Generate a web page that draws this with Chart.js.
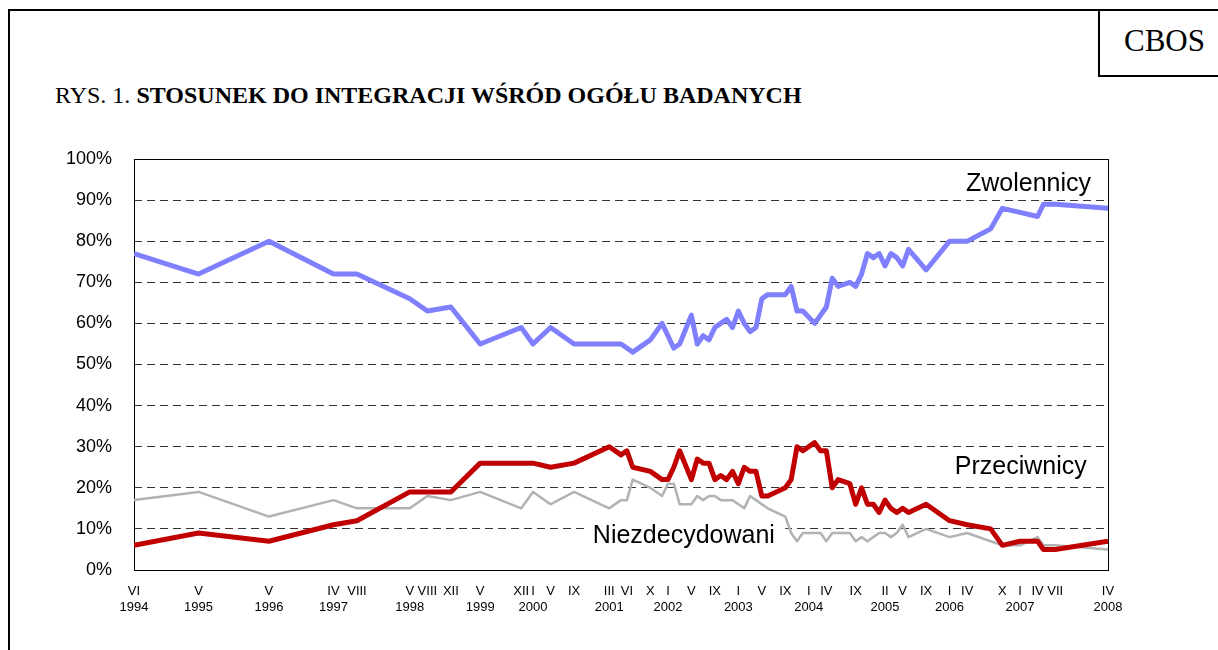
<!DOCTYPE html>
<html>
<head>
<meta charset="utf-8">
<script src="https://cdn.jsdelivr.net/npm/chart.js@4.4.1/dist/chart.umd.min.js"></script>
<style>
  body { margin: 0; background: #fff; }
  #wrap { position: relative; width: 1218px; height: 650px; overflow: hidden; }
  #frame { position: absolute; left: 8px; top: 9px; width: 1300px; height: 700px;
           border-left: 2px solid #000; border-top: 2px solid #000; }
  #cbos { position: absolute; left: 1098px; top: 9px; width: 150px; height: 68px;
          border-left: 2px solid #000; border-bottom: 2px solid #000;
          font-family: "Liberation Serif", "Times New Roman", serif; font-size: 31px;
          line-height: 64px; padding-left: 24px; box-sizing: border-box; }
  #title { position: absolute; left: 55px; top: 82px; white-space: nowrap;
           font-family: "Liberation Serif", "Times New Roman", serif; font-size: 24px; }
  #title b { font-weight: bold; }
  canvas { position: absolute; left: 0; top: 0; }
</style>
</head>
<body>
<div id="wrap">
  <div id="frame"></div>
  <div id="cbos">CBOS</div>
  <div id="title">RYS. 1. <b>STOSUNEK DO INTEGRACJI WŚRÓD OGÓŁU BADANYCH</b></div>
  <canvas id="chart" width="1218" height="650"></canvas>
</div>
<script>
// survey dates as months counted from January 1994 (0 = I 1994)
const surveyMonths = [5, 16, 28, 39, 43, 52, 55, 59, 64, 71, 73, 76, 80, 86, 88, 89, 90, 93, 95, 96,
  97, 98, 100, 101, 102, 103, 104, 105, 106, 107, 108, 109, 110, 111, 112, 113, 116, 117, 118, 119,
  121, 122, 123, 124, 125, 127, 128, 129, 130, 131, 132, 133, 134, 135, 136, 137, 140, 144, 147, 151,
  153, 156, 159, 160, 162, 171];

const zwolennicy = [77, 72, 80, 72, 72, 66, 63, 64, 55, 59, 55, 59, 55, 55, 55, 54, 53, 56, 60, 57,
  54, 55, 62, 55, 57, 56, 59, 60, 61, 59, 63, 60, 58, 59, 66, 67, 67, 69, 63, 63,
  60, 62, 64, 71, 69, 70, 69, 72, 77, 76, 77, 74, 77, 76, 74, 78, 73, 80, 80, 83,
  88, 87, 86, 89, 89, 88];

const przeciwnicy = [6, 9, 7, 11, 12, 19, 19, 19, 26, 26, 26, 25, 26, 30, 28, 29, 25, 24, 22, 22,
  25, 29, 22, 27, 26, 26, 22, 23, 22, 24, 21, 25, 24, 24, 18, 18, 20, 22, 30, 29,
  31, 29, 29, 20, 22, 21, 16, 20, 16, 16, 14, 17, 15, 14, 15, 14, 16, 12, 11, 10,
  6, 7, 7, 5, 5, 7];

const niezdecydowani = [17, 19, 13, 17, 15, 15, 18, 17, 19, 15, 19, 16, 19, 15, 17, 17, 22, 20, 18, 21,
  21, 16, 16, 18, 17, 18, 18, 17, 17, 17, 16, 15, 18, 17, 16, 15, 13, 9, 7, 9,
  9, 9, 7, 9, 9, 9, 7, 8, 7, 8, 9, 9, 8, 9, 11, 8, 10, 8, 9, 7,
  6, 6, 8, 6, 6, 5];

// x axis labels: month (roman) and year
const tickMonths = [5, 16, 28, 39, 43, 52, 55, 59, 64, 71, 73, 76, 80, 86, 89, 93, 96, 100, 104, 108,
  112, 116, 120, 123, 128, 133, 136, 140, 144, 147, 153, 156, 159, 162, 171];
const tickRoman = ['VI', 'V', 'V', 'IV', 'VIII', 'V', 'VIII', 'XII', 'V', 'XII', 'I', 'V', 'IX', 'III', 'VI', 'X', 'I', 'V', 'IX', 'I',
  'V', 'IX', 'I', 'IV', 'IX', 'II', 'V', 'IX', 'I', 'IV', 'X', 'I', 'IV', 'VII', 'IV'];
const tickYear = ['1994', '1995', '1996', '1997', '', '1998', '', '', '1999', '', '2000', '', '', '2001', '', '', '2002', '', '', '2003',
  '', '', '2004', '', '', '2005', '', '', '2006', '', '', '2007', '', '', '2008'];

const yTicks = [0, 10, 20, 30, 40, 50, 60, 70, 80, 90, 100];

function toPoints(values) {
  return values.map((v, i) => ({ x: surveyMonths[i], y: v }));
}

const sans = '"Liberation Sans", Arial, sans-serif';

// text labels next to the lines + frame round the plot
const notesPlugin = {
  id: 'notes',
  beforeDatasetsDraw(chart) {
    const { ctx, chartArea, scales } = chart;
    const x = scales.x, y = scales.y;
    ctx.save();
    // white patch behind "Niezdecydowani"
    ctx.fillStyle = '#fff';
    ctx.fillRect(x.getPixelForValue(82), y.getPixelForValue(11.5), x.getPixelForValue(116) - x.getPixelForValue(82), 16);
    ctx.strokeStyle = '#000';
    ctx.lineWidth = 1;
    ctx.strokeRect(chartArea.left + 0.5, chartArea.top + 0.5, chartArea.right - chartArea.left, chartArea.bottom - chartArea.top);
    ctx.fillStyle = '#000';
    ctx.font = '25px ' + sans;
    ctx.textAlign = 'left';
    ctx.textBaseline = 'alphabetic';
    ctx.fillText('Zwolennicy', x.getPixelForValue(146.8), y.getPixelForValue(92.2));
    ctx.fillText('Przeciwnicy', x.getPixelForValue(144.9), y.getPixelForValue(23.4));
    ctx.fillText('Niezdecydowani', x.getPixelForValue(83.2), y.getPixelForValue(6.6));
    ctx.restore();
  }
};

new Chart(document.getElementById('chart'), {
  type: 'line',
  data: {
    datasets: [
      { label: 'Zwolennicy', data: toPoints(zwolennicy), borderColor: '#8080ff', borderWidth: 5, order: 1 },
      { label: 'Przeciwnicy', data: toPoints(przeciwnicy), borderColor: '#c00000', borderWidth: 5, order: 2 },
      { label: 'Niezdecydowani', data: toPoints(niezdecydowani), borderColor: '#b2b2b2', borderWidth: 2.5, order: 3 }
    ]
  },
  options: {
    responsive: false,
    animation: false,
    devicePixelRatio: 1,
    layout: { padding: { left: 54, right: 110, top: 159, bottom: 30 } },
    elements: {
      point: { radius: 0 },
      line: { tension: 0, borderJoinStyle: 'round', fill: false }
    },
    plugins: { legend: { display: false }, tooltip: { enabled: false } },
    scales: {
      x: {
        type: 'linear',
        min: 5,
        max: 171,
        afterBuildTicks: (scale) => { scale.ticks = tickMonths.map(v => ({ value: v })); },
        afterFit: (scale) => { scale.height = 50; scale.paddingLeft = 0; scale.paddingRight = 0; },
        grid: { display: false, drawTicks: false },
        border: { display: false },
        ticks: {
          autoSkip: false,
          maxRotation: 0,
          minRotation: 0,
          padding: 13,
          color: '#000',
          font: { family: sans, size: 13, lineHeight: 1.25 },
          callback: (value, index) => [tickRoman[index], tickYear[index]]
        }
      },
      y: {
        min: 0,
        max: 100,
        afterBuildTicks: (scale) => { scale.ticks = yTicks.map(v => ({ value: v })); },
        afterFit: (scale) => { scale.width = 80; scale.paddingTop = 0; scale.paddingBottom = 0; },
        grid: { color: '#333', lineWidth: 1, drawTicks: false },
        border: { display: false, dash: [8, 5] },
        ticks: {
          padding: 22,
          color: '#000',
          font: { family: sans, size: 18 },
          callback: (v) => v + '%'
        }
      }
    }
  },
  plugins: [notesPlugin]
});
</script>
</body>
</html>
